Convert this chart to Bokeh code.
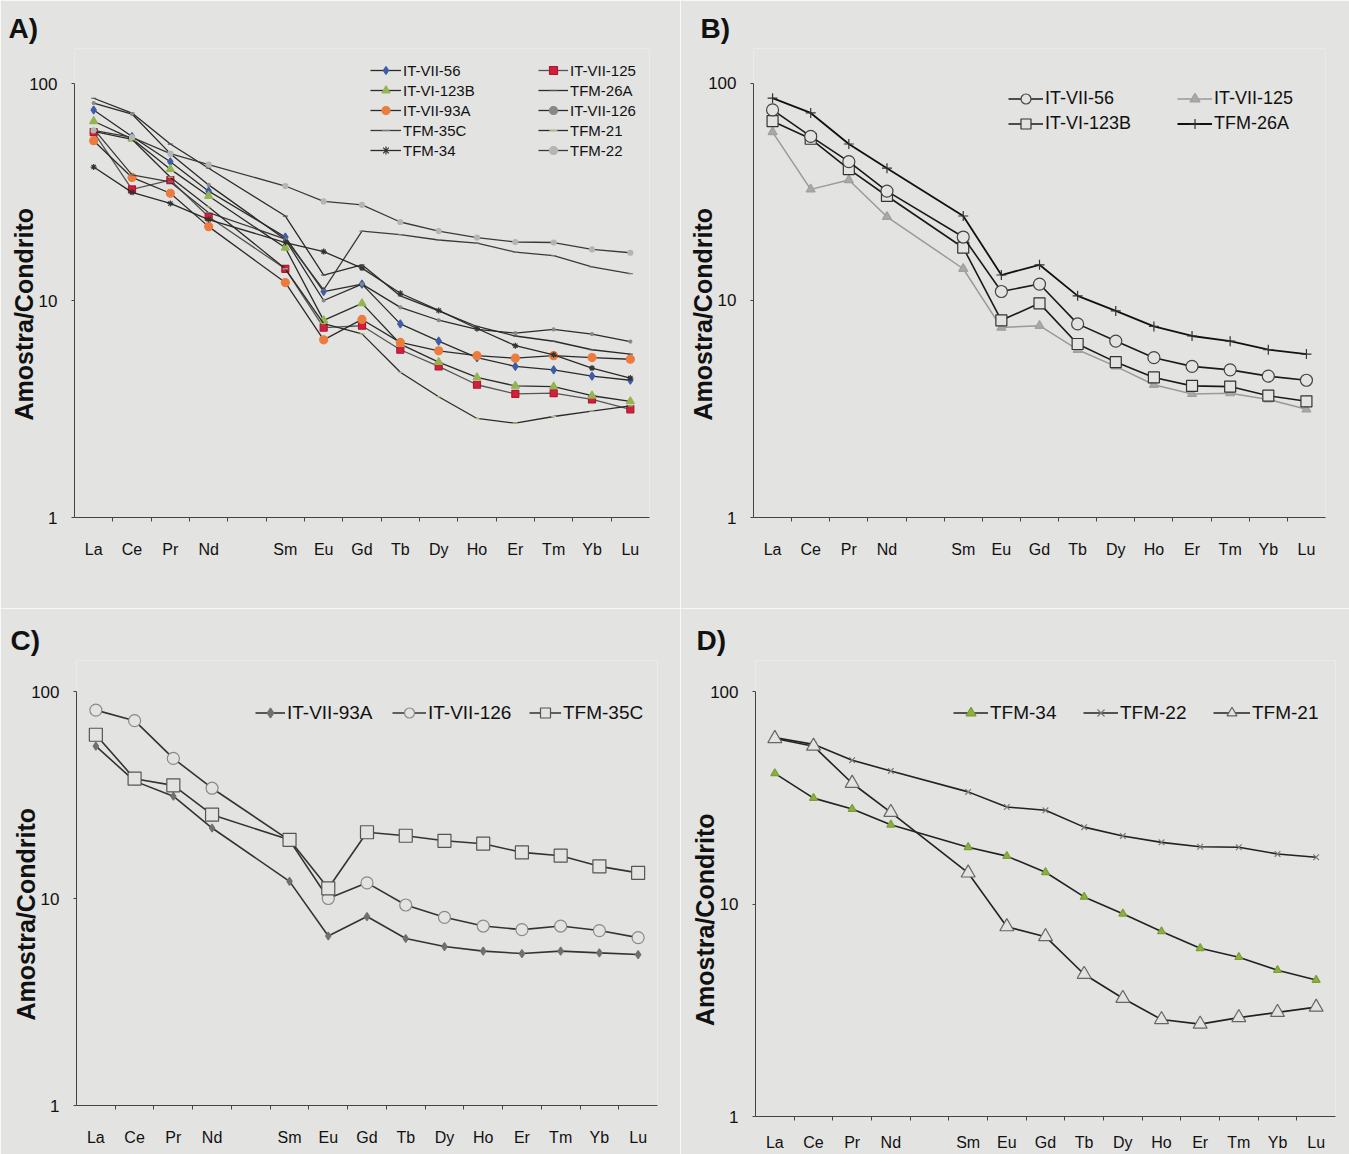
from bokeh.plotting import figure
from bokeh.layouts import column, row
from bokeh.models import (Range1d, FixedTicker, Legend, LegendItem,
                          NumeralTickFormatter)
from bokeh.embed import file_html
from bokeh.resources import INLINE

# ---------------- data ----------------
elements = ["La", "Ce", "Pr", "Nd", "Sm", "Eu", "Gd", "Tb", "Dy", "Ho", "Er", "Tm", "Yb", "Lu"]
skipped_after = "Nd"  # Pm slot left empty on the axis

it_vii_56 = [75.5, 57.0, 43.6, 31.9, 19.6, 11.0, 11.9, 7.8, 6.5, 5.45, 4.97, 4.79, 4.48, 4.29]
it_vi_123b = [67.0, 55.6, 40.3, 30.3, 17.5, 8.1, 9.7, 6.3, 5.2, 4.42, 4.04, 4.01, 3.64, 3.43]
it_vii_125 = [59.7, 32.5, 35.9, 24.3, 14.0, 7.5, 7.65, 5.93, 4.97, 4.09, 3.71, 3.74, 3.50, 3.15]
tfm_26a = [85.5, 73.1, 52.6, 40.7, 24.5, 13.1, 14.6, 10.5, 8.95, 7.59, 6.86, 6.49, 5.93, 5.66]
it_vii_93a = [54.5, 36.9, 31.2, 21.9, 12.1, 6.59, 8.18, 6.41, 5.86, 5.57, 5.42, 5.57, 5.46, 5.36]
it_vii_126 = [81.3, 72.3, 47.5, 34.1, 19.1, 10.0, 11.9, 9.3, 8.11, 7.36, 7.07, 7.36, 7.0, 6.47]
tfm_35c = [61.8, 37.9, 35.2, 25.4, 19.2, 11.2, 20.9, 20.1, 19.0, 18.4, 16.7, 16.1, 14.3, 13.3]
tfm_34 = [41.2, 31.5, 28.0, 23.6, 18.5, 16.8, 14.1, 10.8, 9.0, 7.43, 6.19, 5.62, 4.88, 4.39]
tfm_22 = [60.8, 56.4, 47.5, 42.3, 33.7, 28.6, 27.6, 23.0, 20.9, 19.5, 18.6, 18.5, 17.2, 16.6]
tfm_21 = [60.1, 55.3, 37.0, 27.0, 14.0, 7.82, 7.02, 4.67, 3.60, 2.86, 2.72, 2.92, 3.09, 3.27]

y_ticks = [1, 10, 100]
y_title = "Amostra/Condrito"
panel_letters = ["A)", "B)", "C)", "D)"]

# ---------------- helpers ----------------
BG = "#e3e3e1"
FONT = "Liberation Sans"
LINE = "#2a2a2a"
NBSP = "\u00a0"

gap_index = elements.index(skipped_after) + 1
x_pos = [i + 1 if i < gap_index else i + 2 for i in range(len(elements))]
n_slots = len(elements) + 1
y_lo, y_hi = min(y_ticks), max(y_ticks)


def make_fig(w, h, mbl, mbr, mbt, mbb, letter, letter_offset,
             frame_h, axis_px, xstand=19):
    # frame is taller than the 1..100 axis by (frame_h - axis_px) pixels on top,
    # so the legend and the panel letter can sit above the "100" tick
    decades = 2.0
    top = y_hi * 10 ** ((frame_h - axis_px) * decades / axis_px)
    p = figure(width=w, height=h, x_range=Range1d(0.5, n_slots + 0.5),
               y_range=Range1d(y_lo, top), y_axis_type="log",
               output_backend="svg", toolbar_location=None,
               min_border_left=mbl, min_border_right=mbr,
               min_border_top=mbt, min_border_bottom=mbb)
    p.background_fill_color = BG
    p.border_fill_color = BG
    p.outline_line_color = None
    p.grid.visible = False
    p.title.text = letter
    p.title.align = "left"
    p.title.offset = letter_offset
    p.title.text_font = FONT
    p.title.text_font_style = "bold"
    p.title.text_font_size = "28px"
    p.title.text_color = "#111"
    xa = p.xaxis[0]
    xa.ticker = FixedTicker(ticks=x_pos, minor_ticks=[k + 0.5 for k in range(1, n_slots)])
    xa.major_label_overrides = {x: e for x, e in zip(x_pos, elements)}
    xa.major_tick_out = 0
    xa.major_tick_in = 0
    xa.minor_tick_out = 4
    xa.minor_tick_in = 0
    xa.minor_tick_line_color = "#444"
    xa.axis_line_color = "#444"
    xa.major_label_text_font = FONT
    xa.major_label_text_font_size = "16px"
    xa.major_label_text_color = "#111"
    xa.major_label_standoff = xstand
    ya = p.yaxis[0]
    ya.bounds = (y_lo, y_hi)
    ya.ticker = FixedTicker(ticks=y_ticks, minor_ticks=[])
    ya.formatter = NumeralTickFormatter(format="0")
    ya.major_tick_out = 3
    ya.major_tick_in = 0
    ya.minor_tick_line_color = None
    ya.axis_line_color = "#444"
    ya.major_tick_line_color = "#444"
    ya.major_label_text_font = FONT
    ya.major_label_text_font_size = "17px"
    ya.major_label_text_color = "#111"
    ya.major_label_standoff = 14
    # trailing no-break spaces centre the visible words on the 1..100 span
    ya.axis_label = y_title + NBSP * 9
    ya.axis_label_text_font = FONT
    ya.axis_label_text_font_style = "bold"
    ya.axis_label_text_font_size = "25px"
    ya.axis_label_text_color = "#111"
    ya.axis_label_standoff = -12
    return p


def series(p, vals, lc, lw, marker, size, fill, mline):
    r1 = p.line(x_pos, vals, line_color=lc, line_width=lw)
    r2 = p.scatter(x_pos, vals, marker=marker, size=size, fill_color=fill,
                   line_color=mline, line_width=1.2)
    return [r1, r2]


def add_legend(p, items, vx, vy_bottom, fsize, row_h, glyph_w):
    leg = Legend(items=[LegendItem(label=l, renderers=r) for l, r in items],
                 location=(vx, vy_bottom), orientation="vertical",
                 background_fill_alpha=0, border_line_color=None,
                 padding=0, margin=0, spacing=0,
                 glyph_width=glyph_w, glyph_height=row_h, label_height=row_h,
                 label_standoff=2, label_text_font=FONT,
                 label_text_font_size=fsize, label_text_color="#111")
    p.add_layout(leg, "center")


# ---------------- panel A ----------------
pA = make_fig(680, 608, 74, 31, 48, 91, panel_letters[0], -66, 469, 434)
rA = {}
rA["IT-VII-56"] = series(pA, it_vii_56, LINE, 1.3, "diamond", 8, "#3d5da8", "#3d5da8")
rA["IT-VII-125"] = series(pA, it_vii_125, "#555555", 1.3, "square", 7, "#d21f3c", "#b01830")
rA["IT-VI-123B"] = series(pA, it_vi_123b, LINE, 1.3, "triangle", 8, "#93b550", "#93b550")
rA["TFM-26A"] = series(pA, tfm_26a, LINE, 1.3, "dash", 5, "#555555", "#555555")
rA["IT-VII-93A"] = series(pA, it_vii_93a, LINE, 1.3, "circle", 8, "#ec7c3e", "#ec7c3e")
rA["IT-VII-126"] = series(pA, it_vii_126, LINE, 1.3, "circle", 3, "#888888", "#888888")
rA["TFM-35C"] = series(pA, tfm_35c, "#3a3a3a", 1.3, "dash", 5, "#777777", "#777777")
rA["TFM-21"] = series(pA, tfm_21, LINE, 1.3, "dash", 5, "#a8c080", "#a8c080")
rA["TFM-34"] = series(pA, tfm_34, LINE, 1.3, "asterisk", 6, "#333333", "#333333")
rA["TFM-22"] = series(pA, tfm_22, "#3a3a3a", 1.3, "circle", 5, "#b5b5b5", "#b5b5b5")
colA1 = ["IT-VII-56", "IT-VI-123B", "IT-VII-93A", "TFM-35C", "TFM-34"]
colA2 = ["IT-VII-125", "TFM-26A", "IT-VII-126", "TFM-21", "TFM-22"]
add_legend(pA, [(k, rA[k]) for k in colA1], 296, 357, "15px", 20, 31)
add_legend(pA, [(k, rA[k]) for k in colA2], 464, 357, "15px", 20, 30)

# ---------------- panel B ----------------
pB = make_fig(669, 608, 73, 24, 48, 90, panel_letters[1], -53, 470, 435)
rB = {}
rB["IT-VII-125"] = series(pB, it_vii_125, "#9a9a9a", 1.5, "triangle", 9, "#a8a8a8", "#a0a0a0")
rB["IT-VI-123B"] = series(pB, it_vi_123b, "#1a1a1a", 1.6, "square", 11, BG, "#333333")
rB["IT-VII-56"] = series(pB, it_vii_56, "#1a1a1a", 1.6, "circle", 12, BG, "#444444")
rB["TFM-26A"] = series(pB, tfm_26a, "#111111", 1.8, "cross", 10, "#333333", "#333333")
add_legend(pB, [(k, rB[k]) for k in ["IT-VII-56", "IT-VI-123B"]], 255, 381, "18px", 25, 35)
add_legend(pB, [(k, rB[k]) for k in ["IT-VII-125", "TFM-26A"]], 424, 381, "18px", 25, 35)

# ---------------- panel C ----------------
pC = make_fig(680, 546, 76, 23, 52, 49, panel_letters[2], -66, 445, 414)
rC = {}
rC["IT-VII-93A"] = series(pC, it_vii_93a, "#333333", 1.6, "diamond", 8, "#707070", "#707070")
rC["IT-VII-126"] = series(pC, it_vii_126, "#333333", 1.6, "circle", 12, BG, "#8a8a8a")
rC["TFM-35C"] = series(pC, tfm_35c, "#333333", 1.6, "square", 13, BG, "#555555")
add_legend(pC, [("IT-VII-93A", rC["IT-VII-93A"])], 179, 380, "19px", 25, 30)
add_legend(pC, [("IT-VII-126", rC["IT-VII-126"])], 316, 380, "19px", 25, 34)
add_legend(pC, [("TFM-35C", rC["TFM-35C"])], 453, 380, "19px", 25, 32)

# ---------------- panel D ----------------
pD = make_fig(669, 546, 75, 14, 52, 38, panel_letters[3], -59, 456, 425, xstand=13)
rD = {}
rD["TFM-34"] = series(pD, tfm_34, "#222222", 1.6, "triangle", 8, "#8db040", "#7a9e38")
rD["TFM-22"] = series(pD, tfm_22, "#222222", 1.6, "x", 8, "#777777", "#777777")
rD["TFM-21"] = series(pD, tfm_21, "#222222", 1.6, "triangle", 14, BG, "#666666")
add_legend(pD, [("TFM-34", rD["TFM-34"])], 198, 391, "19px", 25, 35)
add_legend(pD, [("TFM-22", rD["TFM-22"])], 328, 391, "19px", 25, 35)
add_legend(pD, [("TFM-21", rD["TFM-21"])], 458, 391, "19px", 25, 37)

layout = column(row(pA, pB), row(column(pC), column(pD)))
open("out.html", "w").write(file_html(layout, INLINE, title="ETR - Amostra/Condrito"))
